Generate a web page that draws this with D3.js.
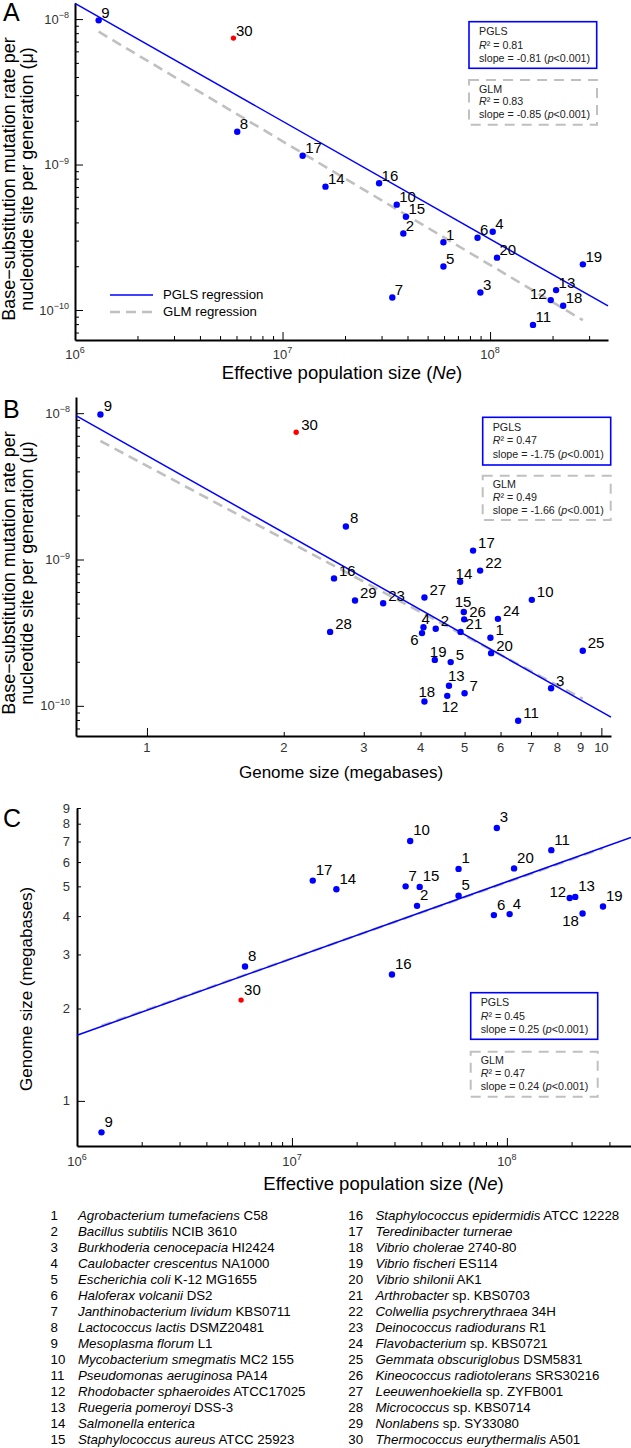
<!DOCTYPE html>
<html><head><meta charset="utf-8">
<script src="https://cdn.jsdelivr.net/npm/d3@7"></script>
<style>
body{margin:0;background:#fff}
svg{display:block}
text{font-family:"Liberation Sans",Arial,Helvetica,sans-serif}
</style>
</head><body>
<svg id="c" width="631" height="1448"></svg>
<script>
// ---------------- DATA ----------------
const ids = d3.range(1, 31);
const italicNames = ["Agrobacterium tumefaciens","Bacillus subtilis","Burkhoderia cenocepacia","Caulobacter crescentus","Escherichia coli","Haloferax volcanii","Janthinobacterium lividum","Lactococcus lactis","Mesoplasma florum","Mycobacterium smegmatis","Pseudomonas aeruginosa","Rhodobacter sphaeroides","Ruegeria pomeroyi","Salmonella enterica","Staphylococcus aureus","Staphylococcus epidermidis","Teredinibacter turnerae","Vibrio cholerae","Vibrio fischeri","Vibrio shilonii","Arthrobacter","Colwellia psychrerythraea","Deinococcus radiodurans","Flavobacterium","Gemmata obscuriglobus","Kineococcus radiotolerans","Leeuwenhoekiella","Micrococcus","Nonlabens","Thermococcus eurythermalis"];
const strainNames = ["C58","NCIB 3610","HI2424","NA1000","K-12 MG1655","DS2","KBS0711","DSMZ20481","L1","MC2 155","PA14","ATCC17025","DSS-3","","ATCC 25923","ATCC 12228","","2740-80","ES114","AK1","sp. KBS0703","34H","R1","sp. KBS0721","DSM5831","SRS30216","sp. ZYFB001","sp. KBS0714","sp. SY33080","A501"];
// effective population size (Ne); null = not estimated
const ne = [5.96e7,3.82e7,8.98e7,1.03e8,5.96e7,8.7e7,3.38e7,6.05e6,1.3e6,3.55e7,1.61e8,1.96e8,2.08e8,1.61e7,3.93e7,2.92e7,1.25e7,2.25e8,2.8e8,1.08e8,null,null,null,null,null,null,null,null,null,5.8e6];
// genome size (megabases)
const genome = [5.70,4.32,7.75,4.06,4.66,4.03,5.00,2.74,0.79,7.03,6.56,4.58,4.62,4.89,4.98,2.58,5.22,4.08,4.30,5.72,4.90,5.41,3.31,5.92,9.10,4.99,4.08,2.53,2.87,2.13];
// base-substitution mutation rate per nucleotide site per generation
const mu = [2.92e-10,3.36e-10,1.32e-10,3.45e-10,1.99e-10,3.14e-10,1.22e-10,1.68e-9,9.8e-9,5.3e-10,7.9e-11,1.17e-10,1.37e-10,7.05e-10,4.38e-10,7.43e-10,1.15e-9,1.07e-10,2.06e-10,2.29e-10,3.2e-10,8.4e-10,5.02e-10,3.93e-10,2.38e-10,3.9e-10,5.5e-10,3.2e-10,5.24e-10,7.4e-9];
const highlightId = 30;

// regression fits as drawn: log10(y) = intercept + slope*log10(x)
const fitA = {pgls:{intercept:-3.032, slope:-0.81}, glm:{intercept:-2.89, slope:-0.85}};
const fitB = {pgls:{intercept:-8.29, slope:-1.75}, glm:{intercept:-8.36, slope:-1.66}};
const fitC = {pgls:{intercept:-1.286, slope:0.25}, glm:{intercept:-1.2716, slope:0.248}};
const statsA = {pgls:["0.81","-0.81"], glm:["0.83","-0.85"]};
const statsB = {pgls:["0.47","-1.75"], glm:["0.49","-1.66"]};
const statsC = {pgls:["0.45","0.25"], glm:["0.47","0.24"]};

const muMajor = [1e-8, 1e-9, 1e-10];
const muExp = ["−8","−9","−10"];
const neMajor = [1e6, 1e7, 1e8];
const neExp = ["6","7","8"];
const gTicksB = [1,2,3,4,5,6,7,8,9,10];
const gTicksC = [1,2,3,4,5,6,7,8,9];

// ---------------- STYLE / LAYOUT ----------------
const BLUE = "#0000ff", RED = "#ff0000", GRAY = "#c0c0c0";
const svg = d3.select("#c");
svg.append("rect").attr("width",631).attr("height",1448).attr("fill","#fff");

// label offsets (px) relative to point: [dx, dy, anchor]
const offA = {def:[2.5,-2.5], 12:[-4,-1,"end"]};
const offB = {def:[5,-2.5], 14:[-4.6,-3], 15:[-9,-5], 4:[-2,-2.7], 6:[-3.3,12,"end"], 19:[-5,-3.3], 13:[-1,-4.7], 18:[-6,-5], 12:[-5.6,16], 8:[4,-3.7], 9:[3.3,-3.3]};
const offC = {def:[3,-5.5], 12:[-3.6,-1.3,"end"], 18:[-3.7,13,"end"]};

function minorTicks(scale, majors) {
  const d = scale.domain(), lo = Math.min(...d), hi = Math.max(...d);
  const out = [];
  for (let e = Math.floor(Math.log10(lo)); e <= Math.ceil(Math.log10(hi)); e++)
    for (let m = 2; m <= 9; m++) { const v = m * Math.pow(10, e); if (v >= lo && v <= hi && !majors.includes(v)) out.push(v); }
  return out;
}

function axes(g, x, y, xMaj, xMin, yMaj, yMin) {
  const [x0] = x.range(), [y0] = y.range();
  const ax = (sel) => sel.selectAll("text").remove();
  g.append("g").attr("transform",`translate(0,${y0})`)
    .call(d3.axisBottom(x).tickValues(xMin).tickSize(-4).tickSizeOuter(0).tickFormat(""))
    .call(s=>s.select(".domain").remove()).call(ax);
  g.append("g").attr("transform",`translate(0,${y0})`)
    .call(d3.axisBottom(x).tickValues(xMaj).tickSize(-8).tickSizeOuter(0).tickFormat(""))
    .call(s=>s.select(".domain").attr("stroke-width",2)).call(ax);
  g.append("g").attr("transform",`translate(${x0},0)`)
    .call(d3.axisLeft(y).tickValues(yMin).tickSize(-4).tickSizeOuter(0).tickFormat(""))
    .call(s=>s.select(".domain").remove()).call(ax);
  g.append("g").attr("transform",`translate(${x0},0)`)
    .call(d3.axisLeft(y).tickValues(yMaj).tickSize(-8).tickSizeOuter(0).tickFormat(""))
    .call(s=>s.select(".domain").attr("stroke-width",2)).call(ax);
  g.selectAll(".tick line").attr("stroke","#000").attr("stroke-width",1);
}

function powLabel(g, px, py, exp, anchor) {
  const t = g.append("text").attr("x",px).attr("y",py).attr("text-anchor",anchor)
    .attr("font-size",13).attr("fill","#333");
  t.append("tspan").text("10");
  t.append("tspan").attr("dy",-5.5).attr("font-size",9).text(exp);
}

function fitLine(g, x, y, fit, xs, isGlm) {
  const pts = xs.map(v => [x(v), y(Math.pow(10, fit.intercept + fit.slope*Math.log10(v)))]);
  g.append("path").attr("d", d3.line()(pts)).attr("fill","none")
    .attr("stroke", isGlm ? GRAY : BLUE).attr("stroke-width", isGlm ? 2.6 : 1.5)
    .attr("stroke-dasharray", isGlm ? "10,6" : null);
}

function points(g, x, y, xv, yv, offs) {
  const data = ids.map((id,i)=>({id, xv:xv[i], yv:yv[i]})).filter(d=>d.xv!=null && d.yv!=null);
  g.selectAll("circle.pt").data(data).join("circle").attr("class","pt")
    .attr("cx",d=>x(d.xv)).attr("cy",d=>y(d.yv))
    .attr("r",d=>d.id===highlightId?2.7:3.2).attr("fill",d=>d.id===highlightId?RED:BLUE);
  g.selectAll("text.pl").data(data).join("text").attr("class","pl")
    .attr("x",d=>x(d.xv)+(offs[d.id]||offs.def)[0])
    .attr("y",d=>y(d.yv)+(offs[d.id]||offs.def)[1])
    .attr("text-anchor",d=>(offs[d.id]||offs.def)[2]||"start")
    .attr("font-size",15).attr("fill","#000").text(d=>d.id);
  return data;
}

function statBox(g, left, top, w, h, name, st, isGlm) {
  g.append("rect").attr("x",left).attr("y",top).attr("width",w).attr("height",h)
    .attr("fill","#fff").attr("stroke", isGlm?GRAY:BLUE).attr("stroke-width", isGlm?2:1.6)
    .attr("stroke-dasharray", isGlm?"10,7":null);
  const b = isGlm ? [12.5,25,38] : [13.5,27,40.5];
  const tx = left + 10;
  g.append("text").attr("x",tx).attr("y",top+b[0]).attr("font-size",10.7).attr("fill","#222").text(name);
  const r = g.append("text").attr("x",tx).attr("y",top+b[1]).attr("font-size",10.7).attr("fill","#222");
  r.append("tspan").attr("font-style","italic").text("R");
  r.append("tspan").text("² = " + st[0]);
  const s = g.append("text").attr("x",tx).attr("y",top+b[2]).attr("font-size",10.7).attr("fill","#222");
  s.append("tspan").text("slope = " + st[1] + " (");
  s.append("tspan").attr("font-style","italic").text("p");
  s.append("tspan").text("<0.001)");
}

function panelLetter(t, yb) {
  svg.append("text").attr("x",3).attr("y",yb).attr("font-size",25).text(t);
}

function muTitle(cy) {
  const lines = ["Base−substitution mutation rate per","nucleotide site per generation (μ)"];
  [14.5, 32.5].forEach((bx,i)=>{
    svg.append("text").attr("transform",`translate(${bx},${cy}) rotate(-90)`)
      .attr("text-anchor","middle").attr("font-size",18).text(lines[i]);
  });
}

function neTitle(cx, yb) {
  const t = svg.append("text").attr("x",cx).attr("y",yb).attr("text-anchor","middle").attr("font-size",18.5);
  t.append("tspan").text("Effective population size (");
  t.append("tspan").attr("font-style","italic").text("Ne");
  t.append("tspan").text(")");
}

// ---------------- PANEL A ----------------
{
  const g = svg.append("g");
  const x = d3.scaleLog().domain([1e6, 3.7e8]).range([75, 608]);
  const y = d3.scaleLog().domain([6.22e-11, 1.29e-8]).range([340, 3]);
  axes(g, x, y, neMajor, minorTicks(x, neMajor), muMajor, minorTicks(y, muMajor));
  neMajor.forEach((v,i)=>powLabel(g, x(v), 358.5, neExp[i], "middle"));
  muMajor.forEach((v,i)=>powLabel(g, 69, y(v)+4.5, muExp[i], "end"));
  const used = ids.map((id,i)=>i).filter(i=>ne[i]!=null);
  const xe = d3.extent(used, i=>ne[i]);
  fitLine(g, x, y, fitA.glm, xe, true);
  fitLine(g, x, y, fitA.pgls, x.domain(), false);
  points(g, x, y, ne, mu, offA);
  // legend
  g.append("line").attr("x1",110).attr("x2",153).attr("y1",295).attr("y2",295).attr("stroke",BLUE).attr("stroke-width",1.5);
  g.append("line").attr("x1",110).attr("x2",153).attr("y1",312).attr("y2",312).attr("stroke",GRAY).attr("stroke-width",2.6).attr("stroke-dasharray","10,6");
  g.append("text").attr("x",163).attr("y",299).attr("font-size",13.2).text("PGLS regression");
  g.append("text").attr("x",163).attr("y",316).attr("font-size",13.2).text("GLM regression");
  statBox(g, 469, 21.7, 127.7, 46.6, "PGLS", statsA.pgls, false);
  statBox(g, 469, 80, 128, 44.7, "GLM", statsA.glm, true);
  panelLetter("A", 21);
  muTitle(179);
  neTitle(342, 379);
}

// ---------------- PANEL B ----------------
{
  const g = svg.append("g");
  const x = d3.scaleLog().domain([0.698, 10.5]).range([76, 611]);
  const y = d3.scaleLog().domain([6.22e-11, 1.29e-8]).range([736, 397]);
  axes(g, x, y, [1,10], [2,3,4,5,6,7,8,9], muMajor, minorTicks(y, muMajor));
  gTicksB.forEach(v=>g.append("text").attr("x",x(v)).attr("y",752).attr("text-anchor","middle")
    .attr("font-size",13).attr("fill","#333").text(v));
  muMajor.forEach((v,i)=>powLabel(g, 70, y(v)+4.5, muExp[i], "end"));
  fitLine(g, x, y, fitB.glm, d3.extent(genome), true);
  fitLine(g, x, y, fitB.pgls, x.domain(), false);
  points(g, x, y, genome, mu, offB);
  statBox(g, 482.7, 417.3, 128, 47.7, "PGLS", statsB.pgls, false);
  statBox(g, 482.7, 475.7, 128, 44.3, "GLM", statsB.glm, true);
  panelLetter("B", 417.5);
  muTitle(573);
  svg.append("text").attr("x",341).attr("y",778).attr("text-anchor","middle").attr("font-size",17)
    .text("Genome size (megabases)");
}

// ---------------- PANEL C ----------------
{
  const g = svg.append("g");
  const x = d3.scaleLog().domain([1e6, 3.78e8]).range([77, 631]);
  const y = d3.scaleLog().domain([0.713, 9]).range([1146, 808]);
  axes(g, x, y, neMajor, minorTicks(x, neMajor), [1], [2,3,4,5,6,7,8,9]);
  neMajor.forEach((v,i)=>powLabel(g, x(v), 1165.5, neExp[i], "middle"));
  gTicksC.forEach(v=>g.append("text").attr("x",70).attr("y",y(v)+4.5).attr("text-anchor","end")
    .attr("font-size",13).attr("fill","#333").text(v));
  const used = ids.map((id,i)=>i).filter(i=>ne[i]!=null);
  fitLine(g, x, y, fitC.glm, d3.extent(used, i=>ne[i]), true);
  fitLine(g, x, y, fitC.pgls, x.domain(), false);
  points(g, x, y, ne, genome, offC);
  statBox(g, 470.7, 992.7, 127, 46.6, "PGLS", statsC.pgls, false);
  statBox(g, 470.7, 1051.7, 127, 45, "GLM", statsC.glm, true);
  panelLetter("C", 827);
  svg.append("text").attr("transform","translate(32,989) rotate(-90)").attr("text-anchor","middle")
    .attr("font-size",17).text("Genome size (megabases)");
  neTitle(383.5, 1190);
}

// ---------------- SPECIES KEY ----------------
{
  const g = svg.append("g").attr("font-size",13.3);
  ids.forEach((id,i)=>{
    const col = i < 15 ? 0 : 1, row = i % 15;
    const yb = 1220 + row*15.98;
    const nx = col ? 348.3 : 50.5, tx = col ? 375.5 : 78;
    g.append("text").attr("x",nx).attr("y",yb).text(id);
    const t = g.append("text").attr("x",tx).attr("y",yb);
    t.append("tspan").attr("font-style","italic").text(italicNames[i]);
    if (strainNames[i]) t.append("tspan").text(" " + strainNames[i]);
  });
}
</script>
</body></html>
